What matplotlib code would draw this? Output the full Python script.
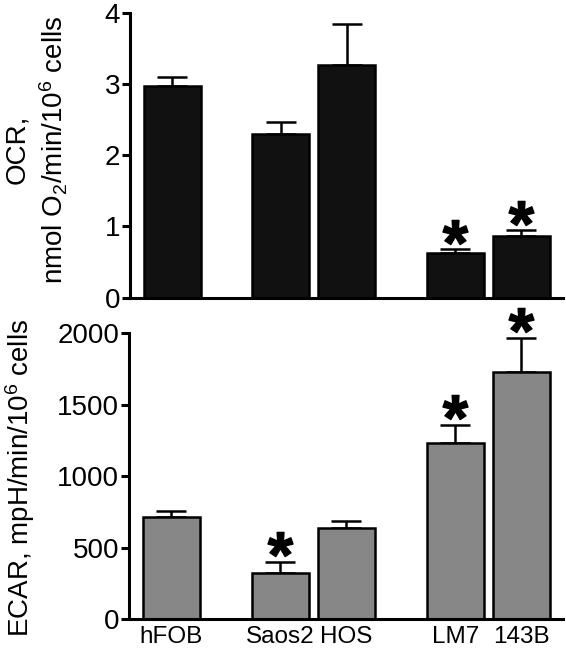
import matplotlib
matplotlib.use("Agg")
import matplotlib.pyplot as plt
from matplotlib.transforms import offset_copy

plt.rcParams["font.family"] = ["Liberation Sans", "DejaVu Sans"]
plt.rcParams["mathtext.fontset"] = "custom"
plt.rcParams["mathtext.rm"] = "Liberation Sans"
plt.rcParams["mathtext.it"] = "Liberation Sans:italic"
plt.rcParams["mathtext.bf"] = "Liberation Sans:bold"

# data
cells = ["hFOB", "Saos2", "HOS", "LM7", "143B"]
ocr = [2.97, 2.30, 3.26, 0.63, 0.87]
ocr_err = [0.13, 0.17, 0.58, 0.06, 0.08]
ocr_sig = [False, False, False, True, True]
ecar = [717, 326, 636, 1235, 1732]
ecar_err = [43, 73, 54, 124, 237]
ecar_sig = [False, True, False, True, True]

# layout: groups separated by wider gaps
xpos = [0, 1.64, 2.64, 4.28, 5.28]
BAR_W = 0.86
LW = 2.2
FS = 20


def panel(ax, vals, errs, sig, color, ylim, yticks, ylabel, star_dy):
    ax.bar(xpos, vals, width=BAR_W, color=color, edgecolor="black",
           linewidth=1.8, zorder=2)
    ax.errorbar(xpos, vals, yerr=[[0] * len(vals), errs], fmt="none",
                ecolor="black", elinewidth=1.8, capsize=11, capthick=1.8, zorder=1)
    # significance stars sit a fixed pixel distance above the error cap
    tr = offset_copy(ax.transData, fig=ax.figure, y=star_dy, units="dots")
    for x, v, e, s in zip(xpos, vals, errs, sig):
        if s:
            ax.plot([x], [v + e], marker=r"$\mathbf{*}$", ms=18, color="black",
                    transform=tr, clip_on=False)
    ax.set_xlim(-0.64, 5.91)
    ax.set_ylim(*ylim)
    ax.set_yticks(yticks)
    for s in ("top", "right"):
        ax.spines[s].set_visible(False)
    for s in ("left", "bottom"):
        ax.spines[s].set_linewidth(LW)
    ax.tick_params(axis="y", length=6, width=LW, labelsize=FS, pad=1)
    ax.set_ylabel(ylabel, fontsize=FS, linespacing=1.3)


fig = plt.figure(figsize=(5.66, 6.58), dpi=100)
ax1 = fig.add_axes([0.2297, 0.5476, 0.765, 0.4331])
ax2 = fig.add_axes([0.228, 0.0588, 0.767, 0.4347])

panel(ax1, ocr, ocr_err, ocr_sig, "#111111", (0, 4), [0, 1, 2, 3, 4],
      "OCR,\nnmol O$_2$/min/10$^6$ cells", 17)
ax1.set_xticks([])
ax1.yaxis.set_label_coords(-0.138, 0.52)

panel(ax2, ecar, ecar_err, ecar_sig, "#878787", (0, 2000), [0, 500, 1000, 1500, 2000],
      "ECAR, mpH/min/10$^6$ cells", 18)
ax2.set_xticks(xpos)
ax2.set_xticklabels(cells)
ax2.tick_params(axis="x", length=0, labelsize=17.5, pad=5)
ax2.yaxis.set_label_coords(-0.212, 0.494)

fig.savefig("out.png", dpi=100, facecolor="white")
